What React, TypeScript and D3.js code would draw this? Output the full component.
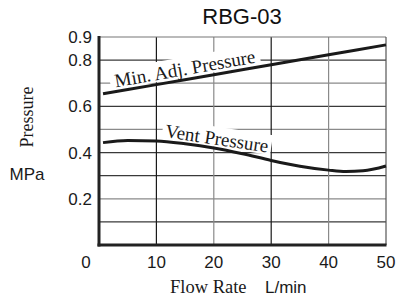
import React from 'react';
import * as d3 from 'd3';

// data
const flowTicks = [0, 10, 20, 30, 40, 50];
const pressureTicks = [0.2, 0.4, 0.6, 0.8, 0.9];
const gridY = [0.1, 0.2, 0.3, 0.4, 0.5, 0.6, 0.7, 0.8];
const gridX = [10, 20, 30, 40];

const minAdjFlow = [0.7, 10, 20, 30, 40, 50];
const minAdjPressure = [0.654, 0.694, 0.737, 0.78, 0.823, 0.866];

const ventFlow = [0.7, 5, 10, 15, 20, 25, 30, 35, 40, 43, 46, 50];
const ventPressure = [0.443, 0.452, 0.45, 0.438, 0.42, 0.395, 0.366, 0.341, 0.324, 0.318, 0.321, 0.342];

const W = 396;
const H = 303;
const margin = { top: 37, right: 10, bottom: 58, left: 99 };

const serif = '"Liberation Serif", "Times New Roman", serif';
const sans = '"Liberation Sans", Arial, sans-serif';

export default function App() {
  const x = d3.scaleLinear().domain([0, 50]).range([margin.left, W - margin.right]);
  const y = d3.scaleLinear().domain([0, 0.9]).range([H - margin.bottom, margin.top]);

  const line = d3
    .line<[number, number]>()
    .x((d) => x(d[0]))
    .y((d) => y(d[1]))
    .curve(d3.curveMonotoneX);

  const minAdj = minAdjFlow.map((f, i) => [f, minAdjPressure[i]] as [number, number]);
  const vent = ventFlow.map((f, i) => [f, ventPressure[i]] as [number, number]);

  // colours of the grid lines vary in the original
  const hColor = (v: number) => ([0.2, 0.5, 0.7].includes(v) ? '#8a8a8a' : '#3a3a3a');
  const vColor = (v: number) => (v === 20 || v === 40 ? '#8a8a8a' : '#1a1a1a');

  const labels = [
    { text: 'Min. Adj. Pressure', fx: 15.0, fp: 0.757, angle: -10, w: 152 },
    { text: 'Vent Pressure', fx: 20.5, fp: 0.455, angle: 8.6, w: 110 },
  ];

  return (
    <svg
      width={W}
      height={H}
      style={{ position: 'absolute', left: 0, top: 0, background: '#fff' }}
    >
      {/* grid */}
      {gridY.map((v) => (
        <line key={'h' + v} x1={x(0)} x2={x(50)} y1={y(v)} y2={y(v)} stroke={hColor(v)} strokeWidth={1.2} />
      ))}
      {gridX.map((v) => (
        <line key={'v' + v} x1={x(v)} x2={x(v)} y1={y(0)} y2={y(0.9)} stroke={vColor(v)} strokeWidth={1.2} />
      ))}
      <line x1={x(0)} x2={x(50)} y1={y(0.9)} y2={y(0.9)} stroke="#777" strokeWidth={1.2} />
      <line x1={x(50)} x2={x(50)} y1={y(0)} y2={y(0.9)} stroke="#555" strokeWidth={1.2} />

      {/* label backgrounds */}
      {labels.map((l) => (
        <g key={'bg' + l.text} transform={`translate(${x(l.fx)},${y(l.fp)}) rotate(${l.angle})`}>
          <rect x={-l.w / 2} y={-13} width={l.w} height={20} fill="#fff" />
        </g>
      ))}

      {/* axes */}
      <line x1={x(0)} x2={x(0)} y1={y(0.9) - 1} y2={y(0) + 1.5} stroke="#222" strokeWidth={3} />
      <line x1={x(0) - 1.5} x2={x(50) + 0.5} y1={y(0)} y2={y(0)} stroke="#222" strokeWidth={3} />

      {/* curves */}
      <path d={line(minAdj) || ''} fill="none" stroke="#1a1a1a" strokeWidth={3} />
      <path d={line(vent) || ''} fill="none" stroke="#1a1a1a" strokeWidth={3} />

      {/* curve labels */}
      {labels.map((l) => (
        <g key={'t' + l.text} transform={`translate(${x(l.fx)},${y(l.fp)}) rotate(${l.angle})`}>
          <text x={0} y={5} textAnchor="middle" fontFamily={serif} fontSize={19} fill="#1a1a1a">
            {l.text}
          </text>
        </g>
      ))}

      {/* tick labels */}
      {pressureTicks.map((v) => (
        <text key={'yt' + v} x={92} y={y(v)} dy="0.36em" textAnchor="end" fontFamily={sans} fontSize={17} fill="#1a1a1a">
          {v.toFixed(1)}
        </text>
      ))}
      {flowTicks.map((v) => (
        <text
          key={'xt' + v}
          x={x(v) + (v === 0 ? -13 : 0)}
          y={268}
          textAnchor="middle"
          fontFamily={sans}
          fontSize={17}
          fill="#1a1a1a"
        >
          {v}
        </text>
      ))}

      {/* titles */}
      <text x={242} y={24} textAnchor="middle" fontFamily={sans} fontSize={22} fill="#111">
        RBG-03
      </text>
      <text x={170} y={293} fontFamily={serif} fontSize={18.5} fill="#1a1a1a">
        Flow Rate
      </text>
      <text x={265} y={293} fontFamily={sans} fontSize={17} fill="#1a1a1a">
        L/min
      </text>
      <text transform="translate(33,117) rotate(-90)" textAnchor="middle" fontFamily={serif} fontSize={18} fill="#1a1a1a">
        Pressure
      </text>
      <text x={27} y={180} textAnchor="middle" fontFamily={sans} fontSize={17} fill="#1a1a1a">
        MPa
      </text>
    </svg>
  );
}
